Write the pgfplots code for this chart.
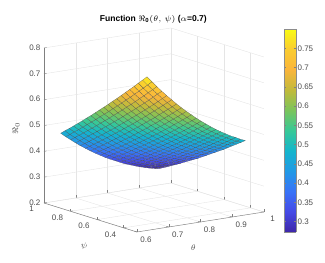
\documentclass[border=0pt]{standalone}
\usepackage{pgfplots}
\pgfplotsset{compat=1.18}
\usepackage{fontspec}
\setmainfont{Liberation Sans}
\definecolor{tl}{rgb}{0.30,0.30,0.30}
\pgfplotsset{
 colormap={parulaish}{rgb=(0.2422,0.1504,0.6603) rgb=(0.27,0.29,0.90) rgb=(0.22,0.45,0.97) rgb=(0.13,0.60,0.90) rgb=(0.08,0.71,0.80) rgb=(0.2161,0.7843,0.5923) rgb=(0.48,0.77,0.36) rgb=(0.76,0.73,0.23) rgb=(0.98,0.71,0.23) rgb=(0.98,0.80,0.19) rgb=(0.9769,0.9839,0.0805)},
}
\begin{document}
\begin{tikzpicture}
\path[use as bounding box] (0,0) rectangle (243.75pt,196.5pt);
\begin{axis}[
 at={(33pt,22.5pt)}, anchor=south west,
 x={(238.1pt,37.5pt)}, y={(-99.6pt,31.1pt)}, z={(0pt,193.75pt)},
 xmin=0.6,xmax=1,ymin=0.3,ymax=1,zmin=0.2,zmax=0.8,
 xtick={0.6,0.7,0.8,0.9,1}, ytick={0.4,0.6,0.8,1}, ztick={0.2,0.3,0.4,0.5,0.6,0.7,0.8},
 xticklabels={0.6,0.7,0.8,0.9,1}, yticklabels={0.4,0.6,0.8,1},
 zticklabels={0.2,0.3,0.4,0.5,0.6,0.7,0.8},
 grid=major, grid style={draw=black!10,line width=0.3pt},
 axis line style={draw=none},
 xtick pos=left, ytick pos=left, ztick pos=left,
 major tick length=2pt, tick style={draw=black!50,line width=0.3pt},
 z tick style={draw=none},
 tick label style={font=\fontsize{6}{7}\selectfont,text=tl},
 xticklabel style={inner sep=1pt,xshift=4pt,yshift=-2pt}, yticklabel style={inner sep=1pt,xshift=-6.5pt,yshift=-1pt}, zticklabel style={inner sep=1pt,xshift=-1.5pt},
 colormap name=parulaish, point meta min=0.273, point meta max=0.80,
 clip=false,
]
\draw[black!50,line width=0.35pt] (axis cs:0.6,1,0.2)--(axis cs:0.6,1,0.8);
\draw[black!50,line width=0.35pt] (axis cs:0.6,1,0.2)--(axis cs:0.6,0.3,0.2);
\draw[black!50,line width=0.35pt] (axis cs:0.6,0.3,0.2)--(axis cs:1,0.3,0.2);
\draw[black!50,line width=0.3pt] (axis cs:0.6,1,0.2)--++(2pt,0.3pt);
\draw[black!50,line width=0.3pt] (axis cs:0.6,1,0.3)--++(2pt,0.3pt);
\draw[black!50,line width=0.3pt] (axis cs:0.6,1,0.4)--++(2pt,0.3pt);
\draw[black!50,line width=0.3pt] (axis cs:0.6,1,0.5)--++(2pt,0.3pt);
\draw[black!50,line width=0.3pt] (axis cs:0.6,1,0.6)--++(2pt,0.3pt);
\draw[black!50,line width=0.3pt] (axis cs:0.6,1,0.7)--++(2pt,0.3pt);
\draw[black!50,line width=0.3pt] (axis cs:0.6,1,0.8)--++(2pt,0.3pt);
\addplot3[surf, shader=faceted, faceted color=black!70, line width=0.1pt, z buffer=sort, mesh/rows=21, mesh/cols=21, mesh/ordering=y varies] coordinates {
(.64,.32,.790)(.64,.3525,.772)(.64,.385,.755)(.64,.4175,.737)(.64,.45,.720)(.64,.4825,.703)(.64,.515,.686)(.64,.5475,.669)(.64,.58,.653)(.64,.6125,.636)(.64,.645,.620)(.64,.6775,.604)(.64,.71,.588)(.64,.7425,.572)(.64,.775,.557)(.64,.8075,.541)(.64,.84,.526)(.64,.8725,.511)(.64,.905,.496)(.64,.9375,.482)(.64,.97,.467)
(.6555,.32,.768)(.6555,.3525,.750)(.6555,.385,.733)(.6555,.4175,.716)(.6555,.45,.699)(.6555,.4825,.682)(.6555,.515,.666)(.6555,.5475,.649)(.6555,.58,.633)(.6555,.6125,.617)(.6555,.645,.601)(.6555,.6775,.585)(.6555,.71,.570)(.6555,.7425,.554)(.6555,.775,.539)(.6555,.8075,.524)(.6555,.84,.509)(.6555,.8725,.494)(.6555,.905,.480)(.6555,.9375,.465)(.6555,.97,.451)
(.671,.32,.746)(.671,.3525,.729)(.671,.385,.712)(.671,.4175,.695)(.671,.45,.679)(.671,.4825,.662)(.671,.515,.646)(.671,.5475,.630)(.671,.58,.614)(.671,.6125,.598)(.671,.645,.583)(.671,.6775,.567)(.671,.71,.552)(.671,.7425,.537)(.671,.775,.522)(.671,.8075,.507)(.671,.84,.493)(.671,.8725,.478)(.671,.905,.464)(.671,.9375,.450)(.671,.97,.436)
(.6865,.32,.725)(.6865,.3525,.709)(.6865,.385,.692)(.6865,.4175,.675)(.6865,.45,.659)(.6865,.4825,.643)(.6865,.515,.627)(.6865,.5475,.611)(.6865,.58,.596)(.6865,.6125,.580)(.6865,.645,.565)(.6865,.6775,.550)(.6865,.71,.535)(.6865,.7425,.520)(.6865,.775,.506)(.6865,.8075,.491)(.6865,.84,.477)(.6865,.8725,.463)(.6865,.905,.449)(.6865,.9375,.435)(.6865,.97,.421)
(.702,.32,.705)(.702,.3525,.689)(.702,.385,.672)(.702,.4175,.656)(.702,.45,.640)(.702,.4825,.624)(.702,.515,.609)(.702,.5475,.593)(.702,.58,.578)(.702,.6125,.563)(.702,.645,.548)(.702,.6775,.533)(.702,.71,.518)(.702,.7425,.504)(.702,.775,.490)(.702,.8075,.475)(.702,.84,.462)(.702,.8725,.448)(.702,.905,.434)(.702,.9375,.421)(.702,.97,.407)
(.7175,.32,.686)(.7175,.3525,.670)(.7175,.385,.654)(.7175,.4175,.638)(.7175,.45,.622)(.7175,.4825,.607)(.7175,.515,.591)(.7175,.5475,.576)(.7175,.58,.561)(.7175,.6125,.546)(.7175,.645,.532)(.7175,.6775,.517)(.7175,.71,.503)(.7175,.7425,.489)(.7175,.775,.475)(.7175,.8075,.461)(.7175,.84,.447)(.7175,.8725,.434)(.7175,.905,.420)(.7175,.9375,.407)(.7175,.97,.394)
(.733,.32,.667)(.733,.3525,.651)(.733,.385,.636)(.733,.4175,.620)(.733,.45,.605)(.733,.4825,.589)(.733,.515,.574)(.733,.5475,.560)(.733,.58,.545)(.733,.6125,.530)(.733,.645,.516)(.733,.6775,.502)(.733,.71,.488)(.733,.7425,.474)(.733,.775,.460)(.733,.8075,.447)(.733,.84,.433)(.733,.8725,.420)(.733,.905,.407)(.733,.9375,.394)(.733,.97,.381)
(.7485,.32,.649)(.7485,.3525,.634)(.7485,.385,.618)(.7485,.4175,.603)(.7485,.45,.588)(.7485,.4825,.573)(.7485,.515,.558)(.7485,.5475,.544)(.7485,.58,.529)(.7485,.6125,.515)(.7485,.645,.501)(.7485,.6775,.487)(.7485,.71,.473)(.7485,.7425,.460)(.7485,.775,.446)(.7485,.8075,.433)(.7485,.84,.420)(.7485,.8725,.407)(.7485,.905,.394)(.7485,.9375,.382)(.7485,.97,.369)
(.764,.32,.632)(.764,.3525,.617)(.764,.385,.602)(.764,.4175,.587)(.764,.45,.572)(.764,.4825,.557)(.764,.515,.543)(.764,.5475,.529)(.764,.58,.514)(.764,.6125,.500)(.764,.645,.487)(.764,.6775,.473)(.764,.71,.460)(.764,.7425,.446)(.764,.775,.433)(.764,.8075,.420)(.764,.84,.407)(.764,.8725,.395)(.764,.905,.382)(.764,.9375,.370)(.764,.97,.358)
(.7795,.32,.616)(.7795,.3525,.601)(.7795,.385,.586)(.7795,.4175,.571)(.7795,.45,.557)(.7795,.4825,.542)(.7795,.515,.528)(.7795,.5475,.514)(.7795,.58,.500)(.7795,.6125,.487)(.7795,.645,.473)(.7795,.6775,.460)(.7795,.71,.446)(.7795,.7425,.434)(.7795,.775,.421)(.7795,.8075,.408)(.7795,.84,.396)(.7795,.8725,.383)(.7795,.905,.371)(.7795,.9375,.359)(.7795,.97,.347)
(.795,.32,.600)(.795,.3525,.585)(.795,.385,.571)(.795,.4175,.556)(.795,.45,.542)(.795,.4825,.528)(.795,.515,.514)(.795,.5475,.500)(.795,.58,.487)(.795,.6125,.473)(.795,.645,.460)(.795,.6775,.447)(.795,.71,.434)(.795,.7425,.421)(.795,.775,.409)(.795,.8075,.396)(.795,.84,.384)(.795,.8725,.372)(.795,.905,.360)(.795,.9375,.349)(.795,.97,.337)
(.8105,.32,.585)(.8105,.3525,.571)(.8105,.385,.556)(.8105,.4175,.542)(.8105,.45,.528)(.8105,.4825,.514)(.8105,.515,.501)(.8105,.5475,.487)(.8105,.58,.474)(.8105,.6125,.461)(.8105,.645,.448)(.8105,.6775,.435)(.8105,.71,.422)(.8105,.7425,.410)(.8105,.775,.398)(.8105,.8075,.386)(.8105,.84,.374)(.8105,.8725,.362)(.8105,.905,.350)(.8105,.9375,.339)(.8105,.97,.328)
(.826,.32,.571)(.826,.3525,.557)(.826,.385,.543)(.826,.4175,.529)(.826,.45,.515)(.826,.4825,.501)(.826,.515,.488)(.826,.5475,.475)(.826,.58,.462)(.826,.6125,.449)(.826,.645,.436)(.826,.6775,.424)(.826,.71,.411)(.826,.7425,.399)(.826,.775,.387)(.826,.8075,.375)(.826,.84,.364)(.826,.8725,.352)(.826,.905,.341)(.826,.9375,.330)(.826,.97,.319)
(.8415,.32,.557)(.8415,.3525,.543)(.8415,.385,.529)(.8415,.4175,.516)(.8415,.45,.502)(.8415,.4825,.489)(.8415,.515,.476)(.8415,.5475,.463)(.8415,.58,.450)(.8415,.6125,.438)(.8415,.645,.425)(.8415,.6775,.413)(.8415,.71,.401)(.8415,.7425,.389)(.8415,.775,.377)(.8415,.8075,.366)(.8415,.84,.354)(.8415,.8725,.343)(.8415,.905,.332)(.8415,.9375,.321)(.8415,.97,.310)
(.857,.32,.544)(.857,.3525,.531)(.857,.385,.517)(.857,.4175,.504)(.857,.45,.491)(.857,.4825,.478)(.857,.515,.465)(.857,.5475,.452)(.857,.58,.440)(.857,.6125,.427)(.857,.645,.415)(.857,.6775,.403)(.857,.71,.391)(.857,.7425,.380)(.857,.775,.368)(.857,.8075,.357)(.857,.84,.346)(.857,.8725,.335)(.857,.905,.324)(.857,.9375,.313)(.857,.97,.303)
(.8725,.32,.532)(.8725,.3525,.519)(.8725,.385,.506)(.8725,.4175,.493)(.8725,.45,.480)(.8725,.4825,.467)(.8725,.515,.454)(.8725,.5475,.442)(.8725,.58,.430)(.8725,.6125,.417)(.8725,.645,.406)(.8725,.6775,.394)(.8725,.71,.382)(.8725,.7425,.371)(.8725,.775,.360)(.8725,.8075,.348)(.8725,.84,.338)(.8725,.8725,.327)(.8725,.905,.316)(.8725,.9375,.306)(.8725,.97,.296)
(.888,.32,.521)(.888,.3525,.508)(.888,.385,.495)(.888,.4175,.482)(.888,.45,.469)(.888,.4825,.457)(.888,.515,.444)(.888,.5475,.432)(.888,.58,.420)(.888,.6125,.408)(.888,.645,.397)(.888,.6775,.385)(.888,.71,.374)(.888,.7425,.363)(.888,.775,.352)(.888,.8075,.341)(.888,.84,.330)(.888,.8725,.320)(.888,.905,.309)(.888,.9375,.299)(.888,.97,.289)
(.9035,.32,.510)(.9035,.3525,.498)(.9035,.385,.485)(.9035,.4175,.472)(.9035,.45,.460)(.9035,.4825,.447)(.9035,.515,.435)(.9035,.5475,.423)(.9035,.58,.411)(.9035,.6125,.400)(.9035,.645,.389)(.9035,.6775,.377)(.9035,.71,.366)(.9035,.7425,.355)(.9035,.775,.345)(.9035,.8075,.334)(.9035,.84,.324)(.9035,.8725,.313)(.9035,.905,.303)(.9035,.9375,.293)(.9035,.97,.284)
(.919,.32,.501)(.919,.3525,.488)(.919,.385,.475)(.919,.4175,.463)(.919,.45,.451)(.919,.4825,.439)(.919,.515,.427)(.919,.5475,.415)(.919,.58,.404)(.919,.6125,.392)(.919,.645,.381)(.919,.6775,.370)(.919,.71,.359)(.919,.7425,.348)(.919,.775,.338)(.919,.8075,.328)(.919,.84,.317)(.919,.8725,.307)(.919,.905,.298)(.919,.9375,.288)(.919,.97,.278)
(.9345,.32,.491)(.9345,.3525,.479)(.9345,.385,.467)(.9345,.4175,.455)(.9345,.45,.443)(.9345,.4825,.431)(.9345,.515,.419)(.9345,.5475,.408)(.9345,.58,.396)(.9345,.6125,.385)(.9345,.645,.374)(.9345,.6775,.363)(.9345,.71,.353)(.9345,.7425,.342)(.9345,.775,.332)(.9345,.8075,.322)(.9345,.84,.312)(.9345,.8725,.302)(.9345,.905,.293)(.9345,.9375,.283)(.9345,.97,.274)
(.95,.32,.483)(.95,.3525,.471)(.95,.385,.459)(.95,.4175,.447)(.95,.45,.435)(.95,.4825,.423)(.95,.515,.412)(.95,.5475,.401)(.95,.58,.390)(.95,.6125,.379)(.95,.645,.368)(.95,.6775,.357)(.95,.71,.347)(.95,.7425,.337)(.95,.775,.327)(.95,.8075,.317)(.95,.84,.307)(.95,.8725,.298)(.95,.905,.288)(.95,.9375,.279)(.95,.97,.270)
};
\end{axis}
\begin{axis}[
 at={(213pt,22.5pt)}, anchor=south west, scale only axis,
 width=9pt, height=152.25pt,
 xmin=0,xmax=1,ymin=0.273,ymax=0.80, xtick=\empty,
 ytick={0.3,0.35,0.4,0.45,0.5,0.55,0.6,0.65,0.7,0.75},
 yticklabels={0.3,0.35,0.4,0.45,0.5,0.55,0.6,0.65,0.7,0.75},
 yticklabel pos=right, tick align=inside, major tick length=1.5pt,
 tick style={draw=black!50,line width=0.3pt}, axis line style={draw=black!45,line width=0.35pt},
 tick label style={font=\fontsize{6}{7}\selectfont,text=tl,inner sep=1pt},
 colormap name=parulaish, point meta min=0.273, point meta max=0.80,
 view={0}{90}, axis on top,
]
\addplot3[surf, shader=interp, point meta=y] coordinates {
(0,0.273,0) (1,0.273,0)

(0,0.80,0) (1,0.80,0)
};
\end{axis}
\node[font=\bfseries\fontsize{6.4}{8}\selectfont,text=black] at (115pt,182.3pt) {Function $\Re_{\mathbf{0}}(\theta,\,\psi)$ ($\alpha$=0.7)};
\node[font=\fontsize{6.5}{8}\selectfont,text=tl] at (145pt,11pt) {$\theta$};
\node[font=\fontsize{6.5}{8}\selectfont,text=tl,rotate=-10] at (63pt,12pt) {$\psi$};
\node[font=\fontsize{6}{8}\selectfont,text=tl,rotate=90] at (12pt,100pt) {$\Re_0$};
\end{tikzpicture}
\end{document}
